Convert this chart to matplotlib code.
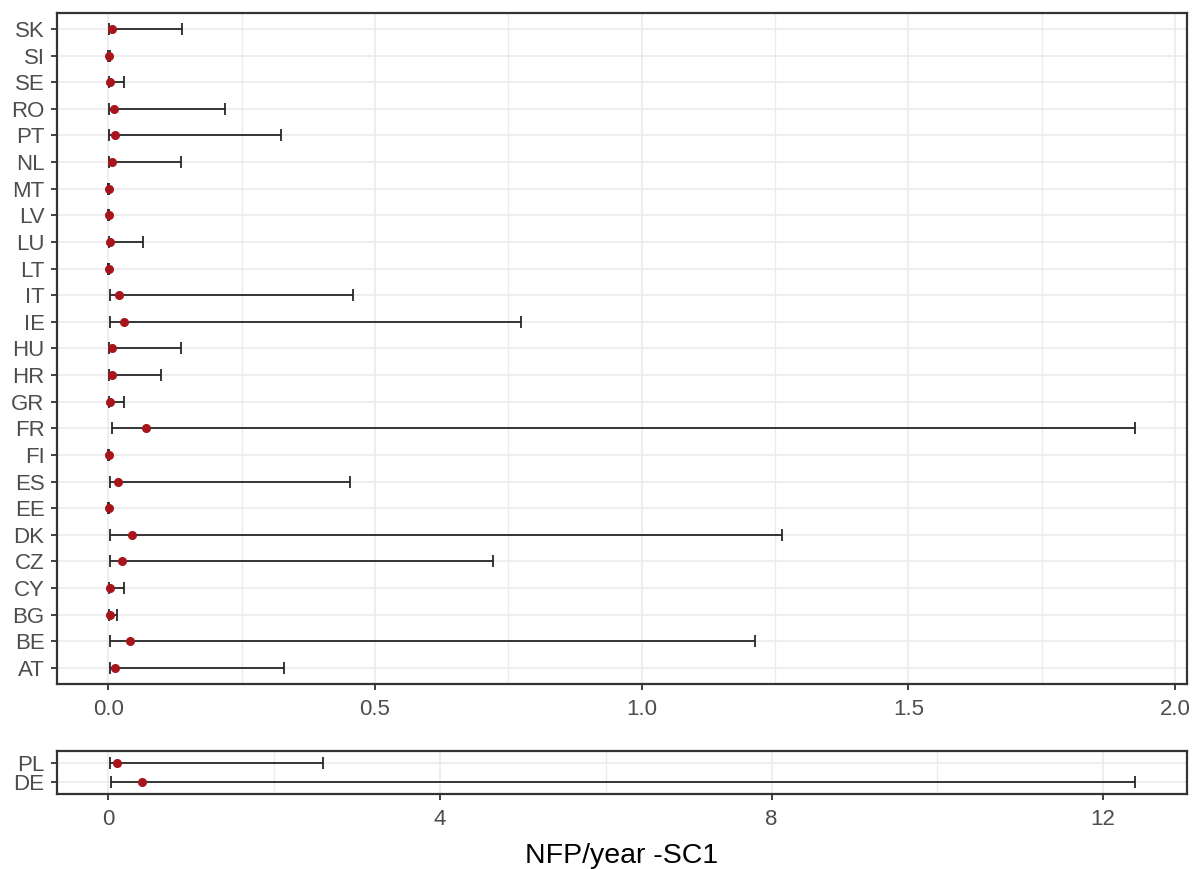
import numpy as np
import matplotlib
matplotlib.use('Agg')
from matplotlib import pyplot as plt
from matplotlib.ticker import MultipleLocator

plt.rcParams['font.family'] = ['Liberation Sans', 'DejaVu Sans']

# ==============================================================================
# Data
countries = ['AT', 'BE', 'BG', 'CY', 'CZ', 'DK', 'EE', 'ES', 'FI', 'FR', 'GR', 'HR', 'HU',
             'IE', 'IT', 'LT', 'LU', 'LV', 'MT', 'NL', 'PT', 'RO', 'SE', 'SI', 'SK']
point = [0.0125, 0.040, 0.004, 0.004, 0.025, 0.044, 0.0005, 0.0175, 0.0005, 0.070, 0.004, 0.0075, 0.0075,
         0.029, 0.020, 0.0005, 0.004, 0.0005, 0.0005, 0.0075, 0.0125, 0.010, 0.004, 0.001, 0.0075]
lower = [0.004, 0.004, 0.002, 0.001, 0.004, 0.004, 0.0, 0.004, 0.0, 0.0075, 0.001, 0.001, 0.001,
         0.004, 0.004, 0.0, 0.001, 0.0, 0.0, 0.001, 0.001, 0.001, 0.001, 0.0, 0.001]
upper = [0.329, 1.212, 0.0156, 0.0287, 0.721, 1.263, 0.001, 0.453, 0.001, 1.926, 0.0287, 0.0986, 0.136,
         0.774, 0.459, 0.001, 0.065, 0.001, 0.001, 0.136, 0.3246, 0.219, 0.0287, 0.004, 0.1386]

big_countries = ['DE', 'PL']
big_point = [0.41, 0.10]
big_lower = [0.03, 0.02]
big_upper = [12.39, 2.59]

x_label = 'NFP/year -SC1'
# ==============================================================================

point_color = '#A8141C'
bar_color = '#262626'
grid_color = '#EBEBEB'
tick_color = '#4D4D4D'


def style_axis(ax):
    ax.set_axisbelow(True)
    ax.grid(True, which='major', color=grid_color, lw=1.2)
    ax.grid(True, which='minor', axis='x', color=grid_color, lw=0.9)
    for sp in ax.spines.values():
        sp.set_color('#333333')
        sp.set_linewidth(1.6)
    ax.tick_params(which='major', length=4, width=1.3, color='#333333', labelcolor=tick_color,
                   labelsize=16)
    ax.tick_params(axis='y', pad=5)
    ax.tick_params(axis='x', pad=7)
    ax.tick_params(which='minor', length=0)


def draw_panel(ax, names, p, lo, hi):
    y = np.arange(len(names))
    p = np.array(p)
    xerr = [p - np.array(lo), np.array(hi) - p]
    ax.errorbar(p, y, xerr=xerr, fmt='none', ecolor=bar_color, elinewidth=1.3,
                capsize=4.5, capthick=1.3, zorder=2)
    ax.plot(p, y, 'o', color=point_color, markersize=5.5, zorder=3)
    ax.set_yticks(y)
    ax.set_yticklabels(names)
    ax.set_ylim(-0.6, len(names) - 0.4)
    rng = max(hi) - min(0, min(lo))
    ax.set_xlim(min(0, min(lo)) - 0.05 * rng, max(hi) + 0.05 * rng)
    style_axis(ax)


fig = plt.figure(figsize=(12, 8.69), dpi=100)
ax_top = fig.add_axes([0.0475, 0.213, 0.9415, 0.772])
ax_bot = fig.add_axes([0.0475, 0.0865, 0.9415, 0.0495])

draw_panel(ax_top, countries, point, lower, upper)
ax_top.xaxis.set_major_locator(MultipleLocator(0.5))
ax_top.xaxis.set_minor_locator(MultipleLocator(0.25))
ax_top.xaxis.set_major_formatter(lambda v, pos: f'{v:.1f}')

draw_panel(ax_bot, big_countries, big_point, big_lower, big_upper)
ax_bot.xaxis.set_major_locator(MultipleLocator(4))
ax_bot.xaxis.set_minor_locator(MultipleLocator(2))
ax_bot.xaxis.set_major_formatter(lambda v, pos: f'{v:.0f}')
ax_bot.set_xlabel(x_label, fontsize=20.5, color='black', labelpad=9)

fig.savefig('out.png', dpi=100, facecolor='white')
